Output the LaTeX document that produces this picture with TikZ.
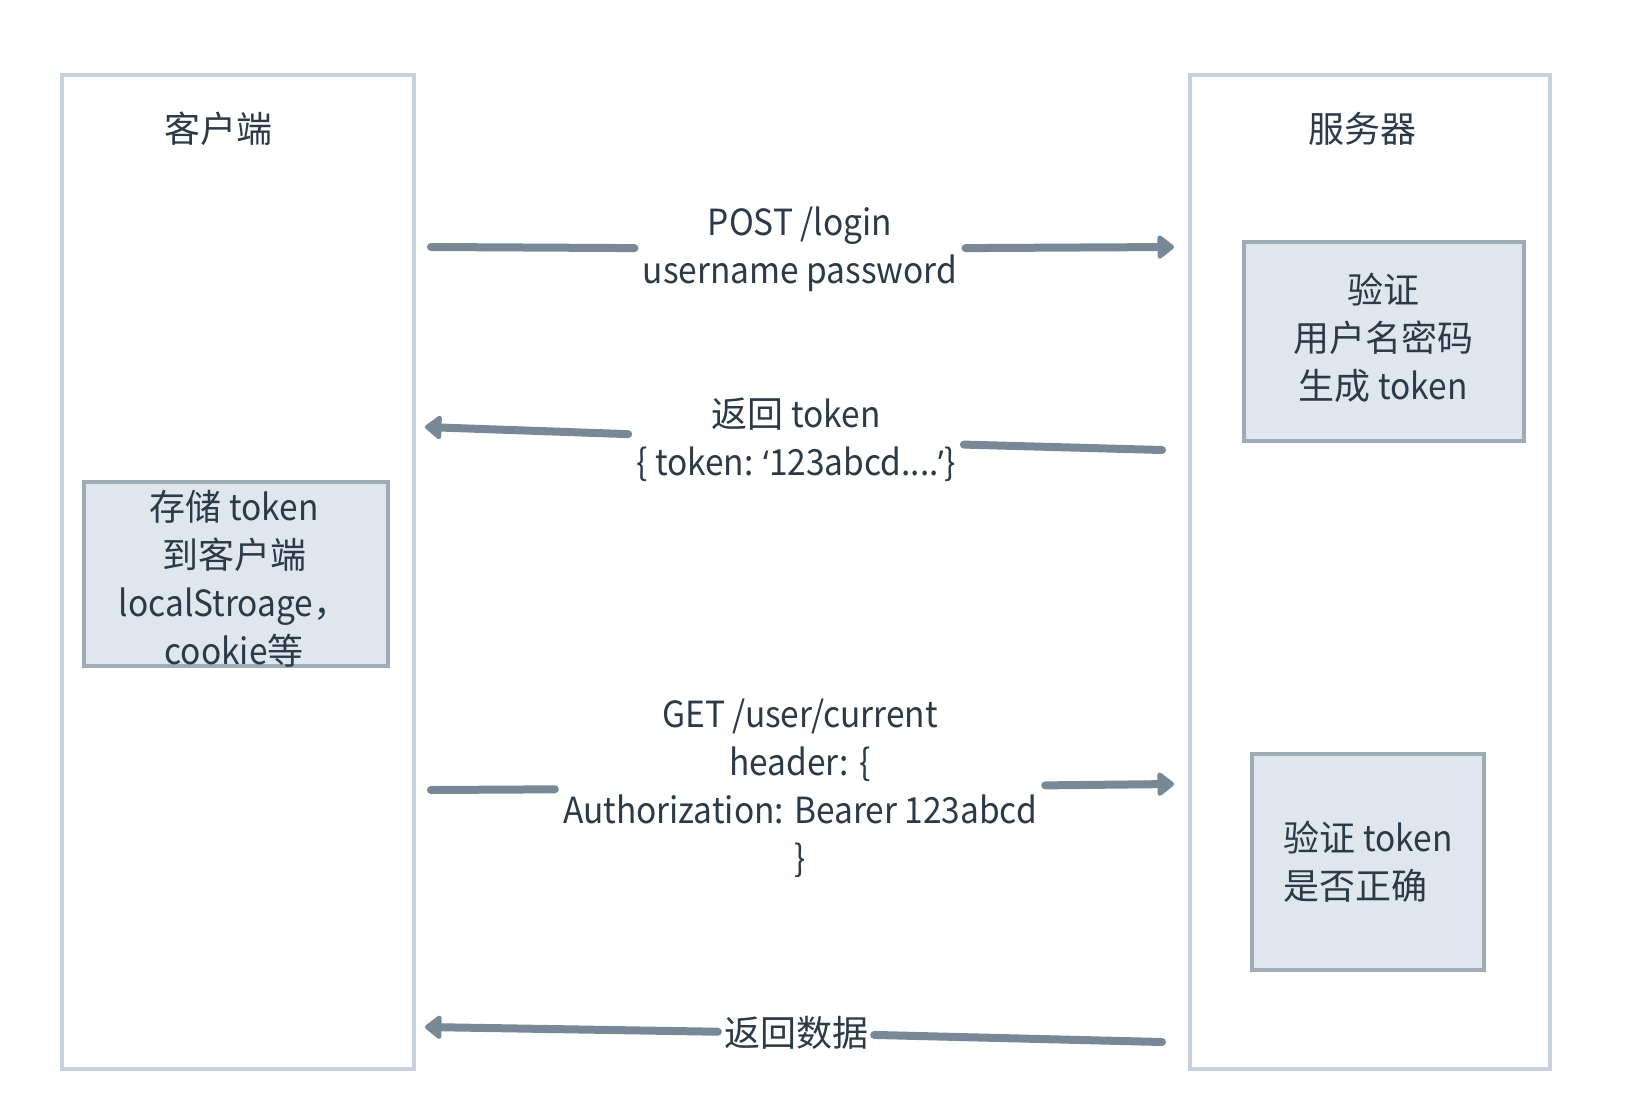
\documentclass[tikz,border=0pt]{standalone}
\usepackage{fontspec}
\setmainfont{Noto Sans CJK SC}
\newfontfamily\latf{Noto Sans CJK SC}[FakeStretch=0.93]
\newfontfamily\quotef{Noto Sans}[FakeStretch=0.93,Scale=0.95]
\newcommand\en[1]{{\latf #1}}
\usetikzlibrary{arrows.meta}
\definecolor{outerc}{HTML}{C6D1DB}
\definecolor{innerb}{HTML}{9FACB8}
\definecolor{innerf}{HTML}{DFE6EE}
\definecolor{arrowc}{HTML}{788896}
\definecolor{txt}{HTML}{2C3A47}
\begin{document}
\begin{tikzpicture}[x=1pt,y=-1pt,
  font=\fontsize{36}{48}\selectfont, text=txt,
  outer/.style={draw=outerc, line width=4pt, inner sep=0pt, anchor=north west},
  inner/.style={draw=innerb, fill=innerf, line width=4pt, inner sep=0pt, align=center},
  lbl/.style={align=center, inner sep=8pt},
  flow/.style={draw=arrowc, line width=8pt, line cap=round},
  tip/.style={-{Triangle[length=18pt,width=27pt,round]}}]
\useasboundingbox (0,0) rectangle (1640,1102);
\fill[white] (0,0) rectangle (1640,1102);

% lanes
\node[outer, minimum width=352pt, minimum height=994pt] (client) at (60,73) {};
\node[outer, minimum width=360pt, minimum height=994pt] (server) at (1188,73) {};
\node (ctitle) at (218,129) {客户端};
\node (stitle) at (1362,129) {服务器};

% process boxes
\node[inner, minimum width=280pt, minimum height=199pt] (verify) at (1384,341) {};
\node[align=center] (verifyt) at (1383,338) {验证\\用户名密码\\生成 \en{token}};
\node[inner, minimum width=304pt, minimum height=184pt] (store) at (236,574) {};
\node[align=center] (storet) at (234,579) {存储 \en{token}\\到客户端\\\en{localStroage}，\\\en{cookie}等};
\node[inner, minimum width=232pt, minimum height=216pt, align=left] (check) at (1368,862) {验证 \en{token}\\是否正确};

% message labels
\node[lbl, font=\latf\fontsize{36}{48}\selectfont] (l1) at (800,249) {POST /login\\username password};
\node[lbl] (l2) at (796,440) {返回 \en{token}\\\en{\{ token: {\quotef ‘}123abcd....{\quotef ’}\}}};
\node[lbl, font=\latf\fontsize{36}{48}\selectfont] (l3) at (800,788) {GET /user/current\\header: \{\\Authorization: Bearer 123abcd\\\}};
\node[lbl, inner sep=6pt] (l4) at (796,1033) {返回数据};

% end points
\coordinate (a1s) at (431,247);
\coordinate (a1e) at (1174,247);
\coordinate (a2s) at (1162,450);
\coordinate (a2e) at (425,427);
\coordinate (a3s) at (431,790);
\coordinate (a3e) at (1174,784);
\coordinate (a4s) at (1162,1042);
\coordinate (a4e) at (425,1027);

% connectors
\draw[flow] (a1s) -- (l1);
\draw[flow,tip] (l1) -- (a1e);
\draw[flow] (a2s) -- (l2);
\draw[flow,tip] (l2) -- (a2e);
\draw[flow] (a3s) -- (l3);
\draw[flow,tip] (l3) -- (a3e);
\draw[flow] (a4s) -- (l4);
\draw[flow,tip] (l4) -- (a4e);
\end{tikzpicture}
\end{document}
